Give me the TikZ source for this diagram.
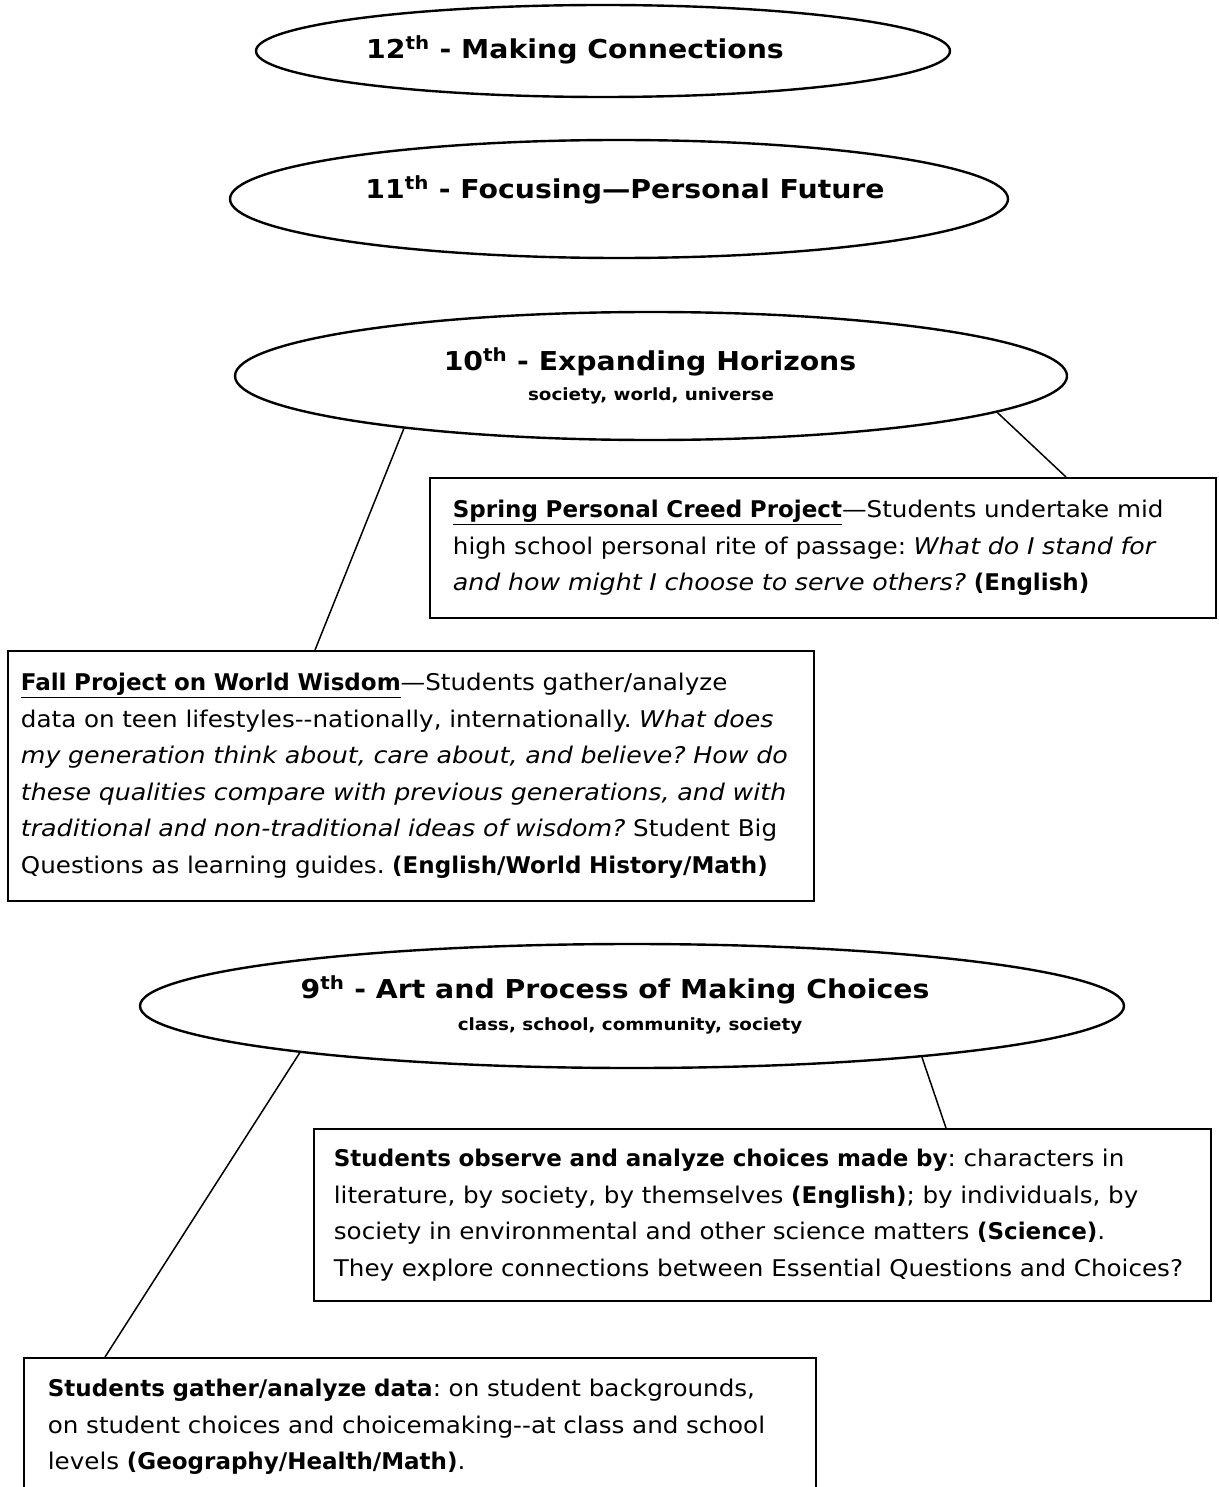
\documentclass[tikz,border=0pt]{standalone}
\usepackage{fontspec}
\newfontfamily\comic{DejaVu Sans}[UprightFeatures={FakeStretch=1.07}, ItalicFeatures={FakeStretch=1.1}, BoldFeatures={FakeStretch=1.0}]
\newfontfamily\comicT{DejaVu Sans}[FakeStretch=1.09]
\usetikzlibrary{shapes.geometric,calc}
\hfuzz=200pt
\frenchspacing
\tikzset{
  ell/.style={draw, ellipse, line width=2.4pt, inner sep=0pt},
  ttl/.style={font=\comicT\bfseries\fontsize{26}{30}\selectfont, inner sep=0pt},
  subttl/.style={font=\comicT\bfseries\fontsize{16.8}{18}\selectfont, inner sep=0pt},
  txtbox/.style={draw, line width=1.8pt, rectangle, anchor=north west, inner ysep=0pt, align=left,
    font=\comic\fontsize{23}{36.5}\selectfont},
  link/.style={line width=1.5pt}
}
\begin{document}
\frenchspacing
\begin{tikzpicture}[x=1pt,y=-1pt]
\useasboundingbox (0,0) rectangle (1218,1487);
% ellipses
\node[ell, minimum width=694pt, minimum height=92pt] (e12) at (603,51) {};
\node[ttl] (t12) at (575,50) {12\textsuperscript{th} - Making Connections};
\node[ell, minimum width=778pt, minimum height=118pt] (e11) at (619,199) {};
\node[ttl] (t11) at (625,190) {11\textsuperscript{th} - Focusing—Personal Future};
\node[ell, minimum width=832pt, minimum height=128pt] (e10) at (651,376) {};
\node[ttl] (t10) at (650,362) {10\textsuperscript{th} - Expanding Horizons};
\node[subttl] (s10) at (651,396) {society, world, universe};
\node[ell, minimum width=984pt, minimum height=124pt] (e9) at (632,1006) {};
\node[ttl] (t9) at (615,990) {9\textsuperscript{th} - Art and Process of Making Choices};
\node[subttl] (s9) at (630,1026) {class, school, community, society};
% boxes
\node[txtbox, inner xsep=23pt, text width=740pt, minimum height=140pt] (spring) at (429,477) {%
\mbox{\textbf{\underline{Spring Personal Creed Project}}—Students undertake mid}\\
\mbox{high school personal rite of passage: \textit{What do I stand for}}\\
\mbox{\textit{and how might I choose to serve others?} \textbf{(English)}}};
\node[txtbox, inner xsep=13pt, text width=780pt, minimum height=250pt] (fall) at (7,650) {%
\mbox{\textbf{\underline{Fall Project on World Wisdom}}—Students gather/analyze}\\
\mbox{data on teen lifestyles--nationally, internationally. \textit{What does}}\\
\mbox{\textit{my generation think about, care about, and believe? How do}}\\
\mbox{\textit{these qualities compare with previous generations, and with}}\\
\mbox{\textit{traditional and non-traditional ideas of wisdom?} Student Big}\\
\mbox{Questions as learning guides. \textbf{(English/World History/Math)}}};
\node[txtbox, inner xsep=20pt, text width=857pt, minimum height=172pt] (choices) at (313,1128) {%
\mbox{\textbf{Students observe and analyze choices made by}: characters in}\\
\mbox{literature, by society, by themselves \textbf{(English)}; by individuals, by}\\
\mbox{society in environmental and other science matters \textbf{(Science)}.}\\
\mbox{They explore connections between Essential Questions and Choices?}};
\node[txtbox, inner xsep=24pt, text width=744pt, minimum height=138pt] (data) at (23,1357) {%
\mbox{\textbf{Students gather/analyze data}: on student backgrounds,}\\
\mbox{on student choices and choicemaking--at class and school}\\
\mbox{levels \textbf{(Geography/Health/Math)}.}};
% connectors
\draw[link] (e10.192) -- ($(fall.north west)+(308,0)$);
\draw[link] (e10.354.7) -- ($(spring.north west)+(637,0)$);
\draw[link] (e9.188.4) -- ($(data.north west)+(82,0)$);
\draw[link] (e9.350.7) -- ($(choices.north west)+(633,0)$);
\end{tikzpicture}
\end{document}
